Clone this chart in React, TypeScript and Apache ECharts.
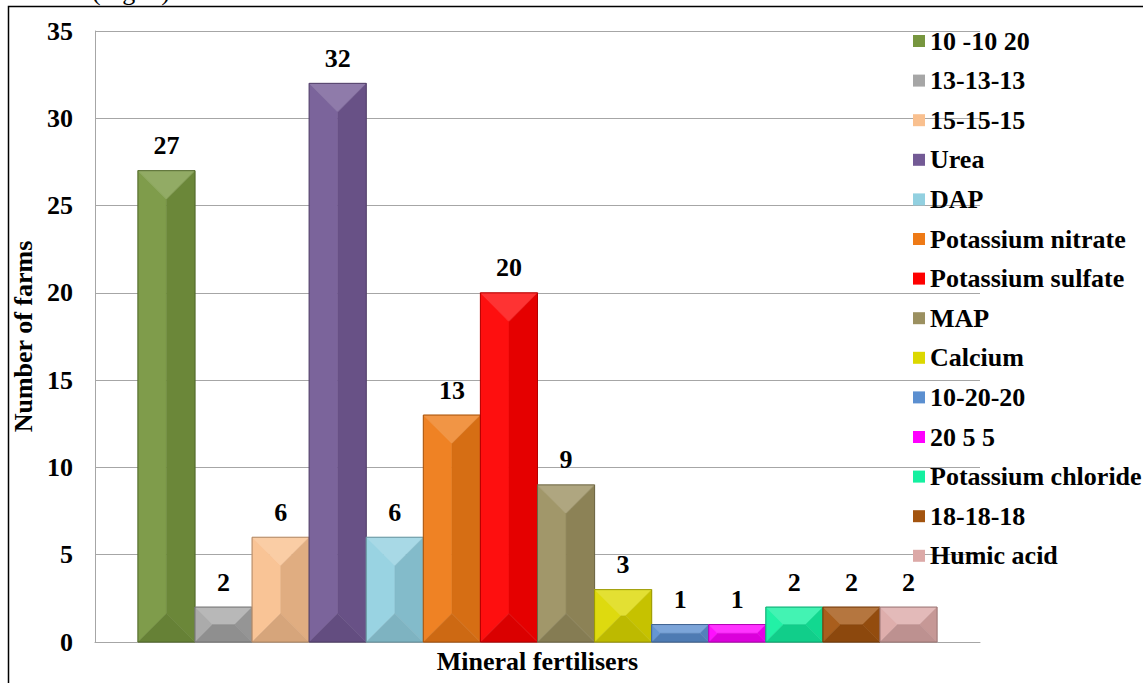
import React, { useEffect, useRef } from "react";
import * as echarts from "echarts";

// Fertiliser types, in legend / bar order
const fertilisers = [
  "10 -10 20",
  "13-13-13",
  "15-15-15",
  "Urea",
  "DAP",
  "Potassium nitrate",
  "Potassium sulfate",
  "MAP",
  "Calcium",
  "10-20-20",
  "20 5 5",
  "Potassium chloride",
  "18-18-18",
  "Humic acid",
];

// Number of farms using each fertiliser
const farms = [27, 2, 6, 32, 6, 13, 20, 9, 3, 1, 1, 2, 2, 2];

const barColors = [
  "#77963f",
  "#a6a6a6",
  "#f9c08f",
  "#735a95",
  "#92d0e0",
  "#ee7a16",
  "#fe0000",
  "#9b9060",
  "#dcd800",
  "#5b8fd0",
  "#ff00ff",
  "#14f0a0",
  "#a3540f",
  "#dca9a7",
];

const category = ["Mineral fertilisers"];
const yTicks = { min: 0, max: 35, interval: 5 };

const FONT = "'Liberation Serif', 'Times New Roman', serif";
const FS = 26;
const CAT_GAP = 0.097;

// Mix a hex colour toward white (amt > 0) or black (amt < 0)
function shade(hex: string, amt: number): string {
  const n = parseInt(hex.slice(1), 16);
  let r = (n >> 16) & 255;
  let g = (n >> 8) & 255;
  let b = n & 255;
  const f = (c: number) =>
    Math.round(amt >= 0 ? c + (255 - c) * amt : c * (1 + amt));
  r = f(r);
  g = f(g);
  b = f(b);
  return "#" + ((1 << 24) | (r << 16) | (g << 8) | b).toString(16).slice(1);
}

// Bevelled bar: five facets (top, left, right, bottom, face) plus the value label
function makeRenderItem(idx: number, color: string) {
  return (_params: any, api: any) => {
    const v = api.value(1);
    const base = api.coord([0, 0]);
    const top = api.coord([0, v]);
    const band = api.size([1, 0])[0];
    const total = band * (1 - CAT_GAP);
    const w = total / fertilisers.length;
    const x = base[0] - total / 2 + idx * w;
    const y = top[1];
    const h = base[1] - top[1];
    const b = Math.min(w / 2, h / 2);
    const x2 = x + w;
    const y2 = y + h;
    const poly = (pts: number[][], fill: string) => ({
      type: "polygon",
      shape: { points: pts },
      style: { fill, stroke: fill, lineWidth: 0.5 },
    });
    return {
      type: "group",
      children: [
        poly(
          [[x, y], [x2, y], [x2 - b, y + b], [x + b, y + b]],
          shade(color, 0.2)
        ),
        poly(
          [[x, y], [x + b, y + b], [x + b, y2 - b], [x, y2]],
          shade(color, 0.06)
        ),
        poly(
          [[x2, y], [x2 - b, y + b], [x2 - b, y2 - b], [x2, y2]],
          shade(color, -0.1)
        ),
        poly(
          [[x, y2], [x2, y2], [x2 - b, y2 - b], [x + b, y2 - b]],
          shade(color, -0.14)
        ),
        {
          type: "rect",
          shape: { x: x + b, y: y + b, width: Math.max(0, w - 2 * b), height: Math.max(0, h - 2 * b) },
          style: { fill: color },
        },
        {
          type: "rect",
          shape: { x, y, width: w, height: h },
          style: { fill: "none", stroke: shade(color, -0.3), lineWidth: 1 },
        },
        {
          type: "text",
          style: {
            text: String(v),
            x: x + w / 2,
            y: y - 12,
            align: "center",
            verticalAlign: "bottom",
            font: `bold ${FS}px ${FONT}`,
            fill: "#000",
          },
        },
      ],
    };
  };
}

export default function App() {
  const ref = useRef<HTMLDivElement>(null);

  useEffect(() => {
    if (!ref.current) return;
    const chart = echarts.init(ref.current, undefined, { renderer: "svg" });

    const series = fertilisers.map((name, i) => ({
      type: "custom",
      name,
      itemStyle: { color: barColors[i] },
      encode: { x: 0, y: 1 },
      data: [[0, farms[i]]],
      renderItem: makeRenderItem(i, barColors[i]),
    }));

    chart.setOption({
      animation: false,
      backgroundColor: "#fff",
      grid: { left: 95, right: 163, top: 31, bottom: 41, containLabel: false },
      xAxis: {
        type: "category",
        data: category,
        axisLine: { show: true, lineStyle: { color: "#a6a6a6", width: 1 } },
        axisTick: { show: false },
        axisLabel: {
          color: "#000",
          fontFamily: FONT,
          fontWeight: "bold",
          fontSize: FS,
          margin: 6,
        },
      },
      yAxis: {
        type: "value",
        min: yTicks.min,
        max: yTicks.max,
        interval: yTicks.interval,
        name: "Number of farms",
        nameLocation: "middle",
        nameRotate: 90,
        nameGap: 55,
        nameTextStyle: {
          color: "#000",
          fontFamily: FONT,
          fontWeight: "bold",
          fontSize: FS,
        },
        axisLine: { show: true, lineStyle: { color: "#a6a6a6", width: 1 } },
        axisTick: { show: false },
        axisLabel: {
          color: "#000",
          fontFamily: FONT,
          fontWeight: "bold",
          fontSize: FS,
          margin: 22,
        },
        splitLine: { show: true, lineStyle: { color: "#a6a6a6", width: 1 } },
      },
      legend: {
        orient: "vertical",
        left: 908,
        top: 23,
        icon: "rect",
        itemWidth: 12,
        itemHeight: 12,
        itemGap: 13.6,
        data: fertilisers,
        textStyle: {
          color: "#000",
          fontFamily: FONT,
          fontWeight: "bold",
          fontSize: FS,
          lineHeight: 26,
        },
      },
      graphic: [
        {
          type: "rect",
          silent: true,
          shape: { x: 8.5, y: 6.5, width: 1200, height: 700 },
          style: { fill: "none", stroke: "#000", lineWidth: 1.5 },
          z: 100,
        },
        {
          type: "text",
          silent: true,
          style: {
            text: "(Fig. 4)",
            x: 92,
            y: 4,
            verticalAlign: "bottom",
            font: `${FS}px ${FONT}`,
            fill: "#000",
          },
        },
      ],
      series,
    });

    return () => chart.dispose();
  }, []);

  return (
    <div
      ref={ref}
      style={{ position: "fixed", left: 0, top: 0, width: 1143, height: 683 }}
    />
  );
}
